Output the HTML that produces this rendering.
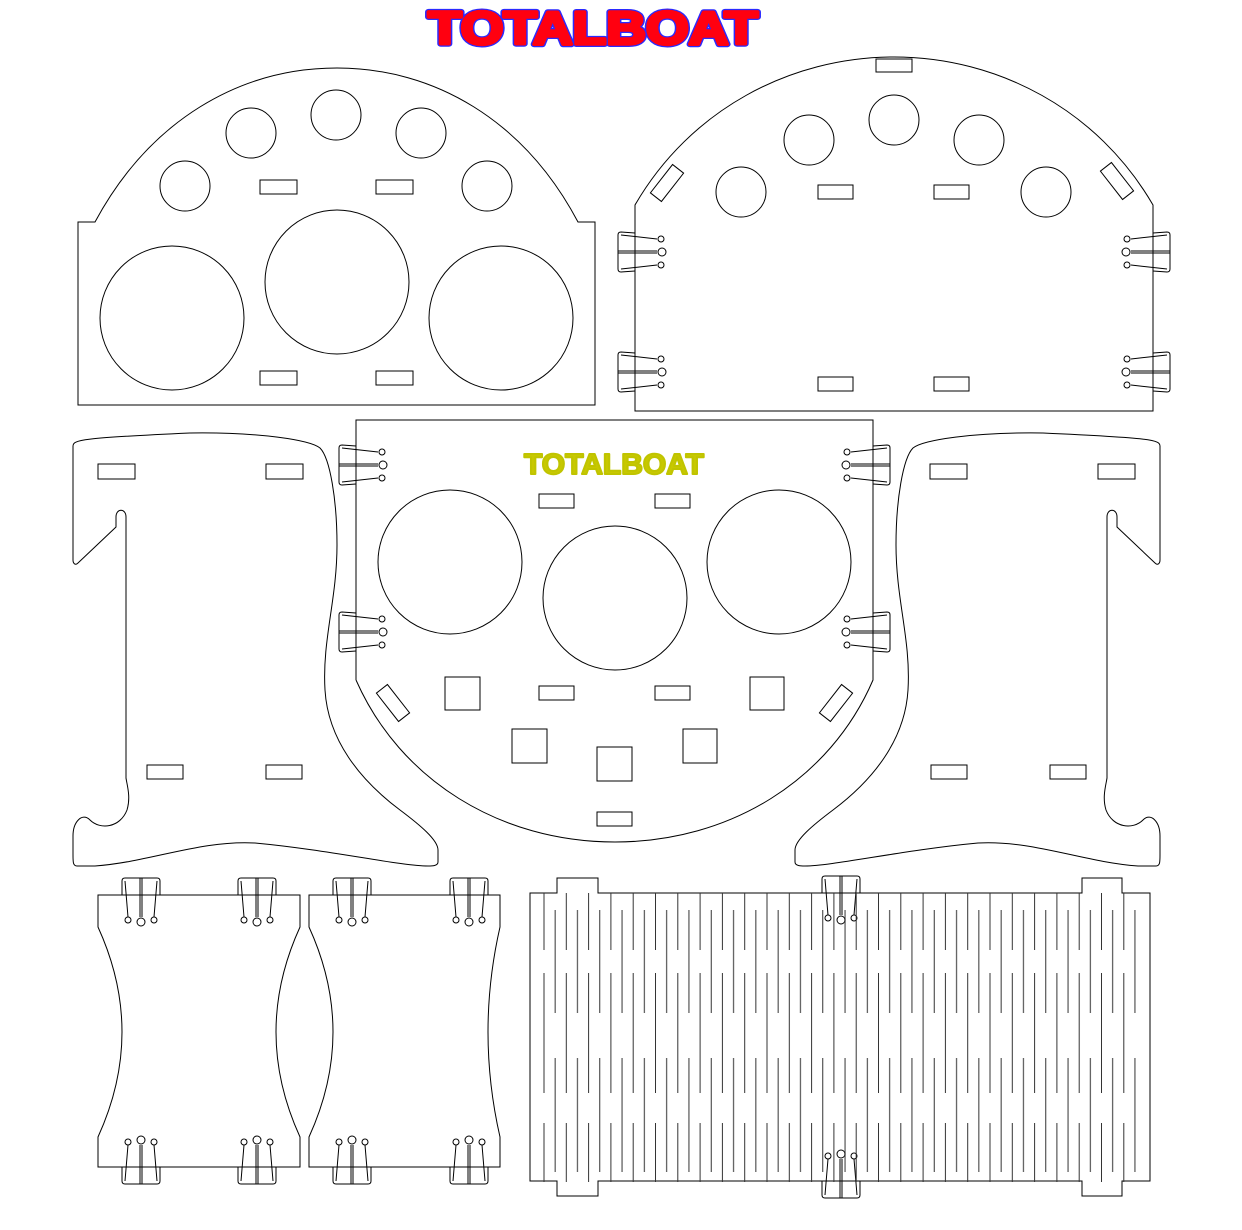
<!DOCTYPE html>
<html><head><meta charset="utf-8"><style>
html,body{margin:0;padding:0;background:#fff;}
svg{display:block;}
</style></head><body>
<svg width="1242" height="1230" viewBox="0 0 1242 1230" xmlns="http://www.w3.org/2000/svg">
<defs>
<g id="hv" fill="none" stroke="#000" stroke-width="1">
  <path d="M-19,0 L-19,-14 Q-19,-17 -16,-17 L16,-17 Q19,-17 19,-14 L19,0"/>
  <path d="M-16,-14 L-13,22"/><circle cx="-13" cy="25" r="3"/>
  <path d="M-1,-17 L-1,22 M1,-17 L1,22"/><circle cx="0" cy="27" r="4"/>
  <path d="M16,-14 L13,22"/><circle cx="13" cy="25" r="3"/>
</g>
<g id="hh" fill="none" stroke="#000" stroke-width="1">
  <path d="M0,-19 L-14,-20 Q-17,-20 -17,-17 L-17,17 Q-17,20 -14,20 L0,19"/>
  <path d="M-14,-17 L22,-13"/><circle cx="26" cy="-13" r="3"/>
  <path d="M-17,-1 L22,-1 M-17,1 L22,1"/><circle cx="27" cy="0" r="4"/>
  <path d="M-14,17 L22,13"/><circle cx="26" cy="13" r="3"/>
</g>
<pattern id="lh" patternUnits="userSpaceOnUse" x="543.5" y="893" width="22.3" height="300">
  <g stroke="#333" stroke-width="1">
    <path d="M0.5,0 L0.5,57 M0.5,80 L0.5,200 M0.5,230 L0.5,289"/>
    <path d="M11.65,17 L11.65,120 M11.65,165 L11.65,279"/>
  </g>
</pattern>
</defs>

<text x="593" y="44" text-anchor="middle" font-family="Liberation Sans, sans-serif" font-weight="bold" font-size="46" textLength="330" lengthAdjust="spacingAndGlyphs" fill="#ff0010" stroke="#2a2aff" stroke-width="6" stroke-linejoin="round">TOTALBOAT</text>
<text x="593" y="44" text-anchor="middle" font-family="Liberation Sans, sans-serif" font-weight="bold" font-size="46" textLength="330" lengthAdjust="spacingAndGlyphs" fill="#ff0010" stroke="#ff0010" stroke-width="3.5" stroke-linejoin="round">TOTALBOAT</text>

<g fill="none" stroke="#000" stroke-width="1">
<path d="M78,222 L95,222 C150,120 240,68 337,68 C434,68 524,120 578,222 L595,222 L595,405 L78,405 Z"/>
<circle cx="172" cy="318" r="72"/><circle cx="337" cy="282" r="72"/><circle cx="501" cy="318" r="72"/>
<circle cx="185" cy="186" r="25"/><circle cx="251" cy="133" r="25"/><circle cx="336" cy="115" r="25"/><circle cx="421" cy="133" r="25"/><circle cx="487" cy="186" r="25"/>
<rect x="260" y="180" width="37" height="14"/><rect x="376" y="180" width="37" height="14"/>
<rect x="260" y="371" width="37" height="14"/><rect x="376" y="371" width="37" height="14"/>

<path d="M635,205 C690,110 790,57 894,57 C998,57 1098,110 1153,205 L1153,411 L635,411 Z"/>
<circle cx="741" cy="192" r="25"/><circle cx="809" cy="140" r="25"/><circle cx="894" cy="120" r="25"/><circle cx="979" cy="140" r="25"/><circle cx="1046" cy="192" r="25"/>
<rect x="876" y="59" width="36" height="13"/>
<rect x="818" y="185" width="35" height="14"/><rect x="934" y="185" width="35" height="14"/>
<rect x="818" y="377" width="35" height="14"/><rect x="934" y="377" width="35" height="14"/>
<rect x="-18" y="-7" width="36" height="14" transform="translate(667,183) rotate(-52)"/>
<rect x="-18" y="-7" width="36" height="14" transform="translate(1117,181) rotate(52)"/>
<use href="#hh" x="635" y="252"/><use href="#hh" x="635" y="372"/>
<use href="#hh" transform="translate(1153,252) scale(-1,1)"/><use href="#hh" transform="translate(1153,372) scale(-1,1)"/>

<path d="M356,680 L356,420 L873,420 L873,680 C830,780 730,842 615,842 C500,842 400,780 356,680"/>
<circle cx="450" cy="562" r="72"/><circle cx="615" cy="598" r="72"/><circle cx="779" cy="562" r="72"/>
<rect x="539" y="494" width="35" height="14"/><rect x="655" y="494" width="35" height="14"/>
<rect x="539" y="686" width="35" height="14"/><rect x="655" y="686" width="35" height="14"/>
<rect x="597" y="812" width="35" height="14"/>
<rect x="445" y="677" width="35" height="33"/><rect x="750" y="677" width="34" height="33"/>
<rect x="512" y="729" width="35" height="34"/><rect x="597" y="747" width="35" height="34"/><rect x="683" y="729" width="34" height="34"/>
<rect x="-18" y="-7" width="36" height="14" transform="translate(393,703) rotate(52)"/>
<rect x="-18" y="-7" width="36" height="14" transform="translate(836,703) rotate(-52)"/>
<use href="#hh" x="356" y="465"/><use href="#hh" x="356" y="632"/>
<use href="#hh" transform="translate(873,465) scale(-1,1)"/><use href="#hh" transform="translate(873,632) scale(-1,1)"/>

<g id="side">
<path d="M73,446 C73,440 80,438 190,433 C260,432 310,440 320,448 C330,458 337,500 337,545 C337,600 322,640 325,690 C328,740 360,780 400,810 C420,825 438,840 438,850 L438,862 C438,866 432,866 428,866 C400,866 330,850 255,843 C200,840 150,862 95,866 L77,866 C73,866 73,862 73,855 L73,836 C73,822 82,812 90,820 C100,830 120,828 127,810 C131,797 127,785 126,778 L126,517 C126,508 116,508 116,517 L116,527 L78,563 C75,566 73,563 73,560 Z"/>
<rect x="98" y="464" width="37" height="15"/><rect x="266" y="464" width="37" height="15"/>
<rect x="147" y="765" width="36" height="14"/><rect x="266" y="765" width="36" height="14"/>
</g>
<use href="#side" transform="translate(1233,0) scale(-1,1)"/>

<path d="M98,895 L300,895 L300,927 Q252,1032 300,1137 L300,1167 L98,1167 L98,1137 Q146,1032 98,927 Z"/>
<path d="M309,895 L500,895 L500,927 Q476,1032 500,1137 L500,1167 L309,1167 L309,1137 Q357,1032 309,927 Z"/>
<use href="#hv" x="141" y="895"/><use href="#hv" x="257" y="895"/><use href="#hv" x="352" y="895"/><use href="#hv" x="469" y="895"/>
<use href="#hv" transform="translate(141,1167) scale(1,-1)"/><use href="#hv" transform="translate(257,1167) scale(1,-1)"/>
<use href="#hv" transform="translate(352,1167) scale(1,-1)"/><use href="#hv" transform="translate(469,1167) scale(1,-1)"/>

<path d="M530,893 L557,893 L557,878 L598,878 L598,893 L1082,893 L1082,878 L1122,878 L1122,893 L1150,893 L1150,1181 L1122,1181 L1122,1196 L1082,1196 L1082,1181 L598,1181 L598,1196 L557,1196 L557,1181 L530,1181 Z"/>
<use href="#hv" x="841" y="893"/><use href="#hv" transform="translate(841,1181) scale(1,-1)"/>
</g>
<rect x="543" y="893" width="602" height="289" fill="url(#lh)"/>

<text x="614" y="474" text-anchor="middle" font-family="Liberation Sans, sans-serif" font-weight="bold" font-size="29" textLength="180" lengthAdjust="spacingAndGlyphs" fill="#c8c800" stroke="#c0c400" stroke-width="2" stroke-linejoin="round">TOTALBOAT</text>
</svg>
</body></html>
